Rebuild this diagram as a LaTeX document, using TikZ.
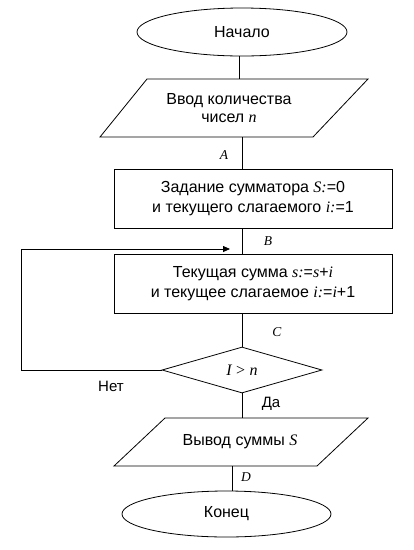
\documentclass[tikz,border=0pt]{standalone}
\usepackage{fontspec}
\setmainfont{Liberation Sans}
\newfontfamily\tmr{Liberation Serif}
\usetikzlibrary{shapes.geometric,arrows.meta,calc}
\newcommand{\mv}[1]{{\tmr\itshape #1}}
\begin{document}
\begin{tikzpicture}[x=1pt,y=-1pt,line width=0.8pt,
  every node/.style={font=\fontsize{16}{20}\selectfont},
  term/.style={ellipse, draw, minimum width=210pt, minimum height=48pt, inner sep=0pt},
  io/.style={rectangle, align=center, inner sep=0pt},
  proc/.style={rectangle, draw, minimum width=278pt, minimum height=59pt, align=center, inner sep=0pt},
  dec/.style={diamond, draw, minimum width=160pt, minimum height=46pt, inner sep=0pt},
  lbl/.style={font=\fontsize{13.5}{16}\tmr\itshape},
  side/.style={font=\fontsize{15}{18}\selectfont},
  arr/.style={-{Triangle[length=7pt,width=6pt]}}]
\useasboundingbox (0,0) rectangle (414,550);
\node[term] (start) at (242,32) {Начало};
\node[io, minimum width=200pt, minimum height=58pt] (p1) at (229,108) {Ввод количества\\[-2pt]чисел \mv{n}};
\draw ($(p1.center)+(-82,-29)$) -- ($(p1.center)+(139,-29)$) -- ($(p1.center)+(84,29)$) -- ($(p1.center)+(-129,29)$) -- cycle;
\node[proc] (r1) at (253,198.5) {Задание сумматора \mv{S:}=0\\и текущего слагаемого \mv{i:}=1};
\node[proc] (r2) at (253,283.5) {Текущая сумма \mv{s:}=\mv{s}+\mv{i}\\и текущее слагаемое \mv{i:}=\mv{i}+1};
\node[dec] (d) at (242,370) {\mv{I} {\tmr>} \mv{n}};
\node[io, minimum width=200pt, minimum height=48pt] (p2) at (240,442) {Вывод суммы \mv{S}};
\draw ($(p2.center)+(-75,-24)$) -- ($(p2.center)+(128,-24)$) -- ($(p2.center)+(77,24)$) -- ($(p2.center)+(-126,24)$) -- cycle;
\node[term, minimum width=209pt, minimum height=46pt] (end) at (226.5,514) {Конец};
\coordinate (ax) at (242,0);
\coordinate (bx) at (232,0);
\coordinate (lc) at (21,249);
\coordinate (in) at (230,249);
\draw (start.south -| bx) ++(7,0) coordinate (s0) (s0) -- (s0 |- p1.north);
\draw (p1.south -| ax) -- (r1.north -| ax);
\draw (r1.south -| ax) -- (r2.north -| ax);
\draw (r2.south -| ax) -- (d.north);
\draw[arr] (d.west) -- (d.west -| lc) |- (in);
\draw (d.south) -- (d.south |- p2.north);
\draw (p2.south -| bx) -- (end.north -| bx);
\node[lbl] (la) at (224,155) {A};
\node[lbl] (lb) at (268,241) {B};
\node[lbl] (lcc) at (277,332) {C};
\node[lbl] (ld) at (246,477) {D};
\node[side] (no) at (111,386) {Нет};
\node[side] (yes) at (271,404) {Да};
\end{tikzpicture}
\end{document}
